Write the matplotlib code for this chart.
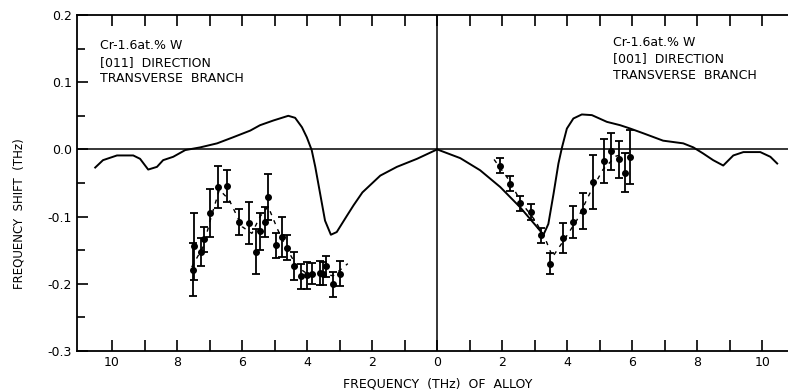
import numpy as np
import matplotlib.pyplot as plt

# calculated shift, [011] branch (plotted on the negative side)
calc011_x = [-10.52, -10.28, -9.85, -9.35, -9.14, -8.89, -8.62, -8.43, -8.12, -7.75,
             -7.29, -6.77, -6.28, -5.75, -5.45, -5.04, -4.58, -4.37, -4.16, -4.01,
             -3.86, -3.75, -3.6, -3.45, -3.27, -3.09, -2.78, -2.57, -2.3, -1.75,
             -1.24, -0.62, 0.0]
calc011_y = [-0.027, -0.016, -0.009, -0.009, -0.014, -0.030, -0.026, -0.016, -0.011, -0.001,
             0.003, 0.009, 0.018, 0.028, 0.036, 0.043, 0.050, 0.047, 0.033, 0.018,
             -0.001, -0.026, -0.066, -0.106, -0.127, -0.123, -0.099, -0.083, -0.064, -0.039,
             -0.026, -0.014, 0.0]

# calculated shift, [001] branch (positive side)
calc001_x = [0.0, 0.71, 1.32, 1.94, 2.55, 3.08, 3.27, 3.42, 3.58, 3.73,
             3.84, 3.99, 4.19, 4.45, 4.76, 5.22, 5.63, 5.94, 6.34, 6.95,
             7.57, 7.88, 8.18, 8.49, 8.8, 9.11, 9.42, 9.94, 10.25, 10.46]
calc001_y = [0.0, -0.013, -0.031, -0.056, -0.086, -0.116, -0.127, -0.111, -0.066, -0.021,
             0.003, 0.031, 0.046, 0.052, 0.051, 0.041, 0.036, 0.031, 0.024, 0.013,
             0.009, 0.003, -0.006, -0.016, -0.024, -0.009, -0.004, -0.004, -0.011, -0.021]

# measured, [011]
meas011_x = [-7.52, -7.47, -7.26, -7.16, -6.98, -6.74, -6.47, -6.11, -5.78, -5.57, -5.45,
             -5.30, -5.19, -4.95, -4.78, -4.61, -4.39, -4.18, -4.01, -3.84, -3.62, -3.50,
             -3.42, -3.21, -2.98]
meas011_y = [-0.179, -0.144, -0.153, -0.134, -0.095, -0.056, -0.055, -0.108, -0.110, -0.152, -0.122,
             -0.108, -0.071, -0.143, -0.130, -0.146, -0.173, -0.189, -0.187, -0.185, -0.184, -0.185,
             -0.174, -0.201, -0.185]
meas011_err = [0.039, 0.050, 0.021, 0.019, 0.036, 0.031, 0.024, 0.020, 0.031, 0.034, 0.027,
               0.022, 0.034, 0.019, 0.030, 0.018, 0.021, 0.018, 0.020, 0.016, 0.018, 0.017,
               0.016, 0.019, 0.019]

# measured, [001]
meas001_x = [1.94, 2.25, 2.55, 2.88, 3.20, 3.48, 3.86, 4.17, 4.48, 4.79, 5.12, 5.35, 5.58, 5.78, 5.94]
meas001_y = [-0.024, -0.051, -0.080, -0.093, -0.128, -0.170, -0.132, -0.108, -0.092, -0.049,
             -0.017, -0.003, -0.015, -0.035, -0.011]
meas001_err = [0.011, 0.011, 0.011, 0.012, 0.011, 0.016, 0.022, 0.024, 0.027, 0.040,
               0.033, 0.028, 0.028, 0.029, 0.040]

# dashed guide through the measured points
guide011_x = [-7.55, -7.2, -6.95, -6.7, -6.4, -6.0, -5.7, -5.45, -5.2, -4.9, -4.6, -4.3, -4.0, -3.6, -3.2, -2.75]
guide011_y = [-0.175, -0.145, -0.100, -0.060, -0.075, -0.115, -0.125, -0.100, -0.085, -0.120, -0.150, -0.175, -0.185, -0.185, -0.188, -0.170]
guide001_x = [1.75, 2.2, 2.6, 3.0, 3.3, 3.55, 3.9, 4.3, 4.7, 5.1, 5.5, 5.9]
guide001_y = [-0.015, -0.045, -0.080, -0.105, -0.130, -0.160, -0.135, -0.105, -0.065, -0.030, -0.010, -0.005]

text011 = ["Cr-1.6at.% W", "[011]  DIRECTION", "TRANSVERSE  BRANCH"]
text011_y = [0.155, 0.129, 0.105]
text001 = ["Cr-1.6at.% W", "[001]  DIRECTION", "TRANSVERSE  BRANCH"]
text001_y = [0.159, 0.135, 0.110]

plt.rcParams['font.family'] = ['DejaVu Sans']

fig = plt.figure(figsize=(7.88, 3.9), dpi=100)
ax = fig.add_axes([77/788, 39/390, 721/788, 336/390])

ax.axhline(0, color="k", lw=1.1)
ax.axvline(0, color="k", lw=1.1)
ax.plot(calc011_x, calc011_y, color="k", lw=1.4, solid_joinstyle="round")
ax.plot(calc001_x, calc001_y, color="k", lw=1.4, solid_joinstyle="round")
ax.plot(guide011_x, guide011_y, color="k", lw=1.0, ls=(0, (3, 4)))
ax.plot(guide001_x, guide001_y, color="k", lw=1.0, ls=(0, (3, 4)))
ax.errorbar(meas011_x, meas011_y, yerr=meas011_err, fmt="o", color="k", ms=4,
            capsize=3, elinewidth=1.3, capthick=1.3)
ax.errorbar(meas001_x, meas001_y, yerr=meas001_err, fmt="o", color="k", ms=4,
            capsize=3, elinewidth=1.3, capthick=1.3)

for s, y in zip(text011, text011_y):
    ax.text(-10.37, y, s, fontsize=9, va="center")
for s, y in zip(text001, text001_y):
    ax.text(5.42, y, s, fontsize=9, va="center")

ax.set_xlim(-11.08, 11.1)
ax.set_ylim(-0.3, 0.2)
ax.set_xticks(np.arange(-10, 11, 2))
ax.set_xticklabels([str(abs(v)) for v in range(-10, 11, 2)])
ax.set_xticks(np.arange(-10, 11, 1), minor=True)
ax.set_yticks([0.2, 0.1, 0.0, -0.1, -0.2, -0.3])
ax.set_yticklabels(["0.2", "0.1", "0.0", "-0.1", "-0.2", "-0.3"])
ax.set_yticks(np.arange(-0.25, 0.2, 0.1), minor=True)
ax.tick_params(which="both", direction="in", top=True, right=False, width=1.2, labelsize=9)
ax.tick_params(which="major", length=8)
ax.tick_params(which="minor", length=8)
ax.tick_params(axis="y", which="minor", length=6)
for s in ax.spines.values():
    s.set_linewidth(1.3)
ax.set_xlabel("FREQUENCY  (THz)  OF  ALLOY", fontsize=9, labelpad=6)
ax.set_ylabel("FREQUENCY  SHIFT  (THz)", fontsize=8.5)
ax.yaxis.set_label_coords(-0.072, 0.41)

fig.savefig("out.png", dpi=100)
